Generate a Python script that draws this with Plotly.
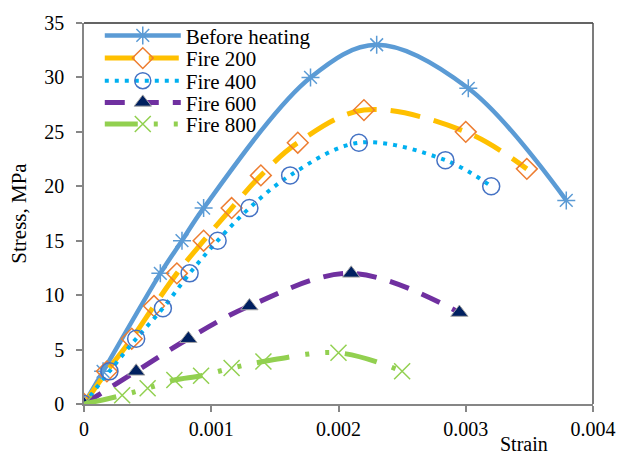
import plotly.graph_objects as go

# ---- data ----
before_x = [0, 0.00015, 0.0006, 0.00077, 0.00094, 0.00178, 0.0023, 0.00302, 0.00379]
before_y = [0, 3, 12, 15, 18, 30, 33, 29, 18.7]

f200_x = [0, 0.00018, 0.000375, 0.00055, 0.00073, 0.00094, 0.00116, 0.00139, 0.00168, 0.0022, 0.0030, 0.00348]
f200_y = [0, 3, 6, 9, 12, 15, 18, 21, 24, 27, 25, 21.6]

f400_x = [0, 0.0002, 0.00041, 0.00062, 0.00083, 0.00105, 0.0013, 0.00162, 0.00216, 0.00284, 0.0032]
f400_y = [0, 3, 6, 8.8, 12, 15, 18, 21, 24, 22.4, 20]

f600_x = [0, 0.00041, 0.00082, 0.0013, 0.0021, 0.00295]
f600_y = [0, 3, 6, 9, 12, 8.4]

f800_x = [0, 0.0003, 0.0005, 0.00071, 0.00092, 0.00116, 0.00141, 0.002, 0.0025]
f800_y = [0, 0.8, 1.45, 2.2, 2.6, 3.3, 3.9, 4.7, 3.0]

series_names = ["Before heating", "Fire 200", "Fire 400", "Fire 600", "Fire 800"]

x_ticks = [0, 0.001, 0.002, 0.003, 0.004]
x_tick_labels = ["0", "0.001", "0.002", "0.003", "0.004"]
y_ticks = [0, 5, 10, 15, 20, 25, 30, 35]

FONT = "Liberation Serif"
LEG_FONT = dict(family=FONT, size=21, color="black")

fig = go.Figure()

fig.add_trace(go.Scatter(
    x=before_x, y=before_y, name=series_names[0], mode="lines+markers", legend="legend",
    line=dict(color="#5B9BD5", width=4.5, shape="spline", smoothing=1),
    marker=dict(symbol="asterisk-open", size=15, color="#5B9BD5", line=dict(color="#5B9BD5", width=1.5)),
))
fig.add_trace(go.Scatter(
    x=f200_x, y=f200_y, name=series_names[1], mode="lines+markers", legend="legend2",
    line=dict(color="#FFC000", width=5, shape="spline", smoothing=1, dash="30px,14px"),
    marker=dict(symbol="diamond-open", size=16, color="#ED7D31", line=dict(color="#ED7D31", width=1.5)),
))
fig.add_trace(go.Scatter(
    x=f400_x, y=f400_y, name=series_names[2], mode="lines+markers", legend="legend3",
    line=dict(color="#00B0F0", width=4, shape="spline", smoothing=1, dash="4px,6px"),
    marker=dict(symbol="circle-open", size=17, color="#4472C4", line=dict(color="#4472C4", width=1.5)),
))
fig.add_trace(go.Scatter(
    x=f600_x, y=f600_y, name=series_names[3], mode="lines+markers", legend="legend4",
    line=dict(color="#7030A0", width=5, shape="spline", smoothing=1, dash="20px,14px"),
    marker=dict(symbol="triangle-up", size=15, color="#002060", line=dict(color="#A5A5A5", width=1)),
))
fig.add_trace(go.Scatter(
    x=f800_x, y=f800_y, name=series_names[4], mode="lines+markers", legend="legend5",
    line=dict(color="#92D050", width=5, shape="spline", smoothing=1, dash="33px,16px,4px,16px,4px,16px"),
    marker=dict(symbol="x-thin-open", size=16, color="#92D050", line=dict(color="#92D050", width=1.5)),
))

# legend rows (pixel centres in reference; plot y from 17 to 404)
row_px = [35, 58, 81, 103, 125]
legends = {}
for i, py in enumerate(row_px):
    key = "legend" if i == 0 else f"legend{i+1}"
    legends[key] = dict(x=0.031, y=(404 - (py - 5)) / 387, xanchor="left", yanchor="middle",
                        bgcolor="rgba(0,0,0,0)", font=LEG_FONT, itemwidth=76)

fig.update_layout(
    width=628, height=455,
    margin=dict(l=84, r=32, t=17, b=51),
    paper_bgcolor="white", plot_bgcolor="white",
    font=dict(family=FONT, size=20, color="black"),
    showlegend=True,
    **legends,
    xaxis=dict(range=[0, 0.004], tickvals=x_ticks, ticktext=x_tick_labels,
               showgrid=False, zeroline=False, showline=True, linecolor="#868686", linewidth=1.5,
               ticks="outside", ticklen=6, tickcolor="#868686", tickwidth=1.5,
               tickfont=dict(family=FONT, size=20, color="black")),
    yaxis=dict(range=[0, 35], tickvals=y_ticks,
               showgrid=False, zeroline=False, showline=True, linecolor="#868686", linewidth=1.5,
               ticks="outside", ticklen=6, tickcolor="#868686", tickwidth=1.5, ticklabelstandoff=8,
               tickfont=dict(family=FONT, size=20, color="black"),
               title=dict(text="Stress, MPa", font=dict(family=FONT, size=21, color="black"), standoff=12)),
    shapes=[
        dict(type="line", xref="paper", yref="paper", x0=0, x1=1, y0=1, y1=1,
             line=dict(color="#303030", width=1.5)),
        dict(type="line", xref="paper", yref="paper", x0=1, x1=1, y0=0, y1=1,
             line=dict(color="#505050", width=1.5)),
    ],
    annotations=[
        dict(text="Strain", xref="paper", yref="paper", x=0.865, y=-0.072, xanchor="center", yanchor="top",
             showarrow=False, font=dict(family=FONT, size=20, color="black")),
    ],
)

fig.write_html("out.html")
